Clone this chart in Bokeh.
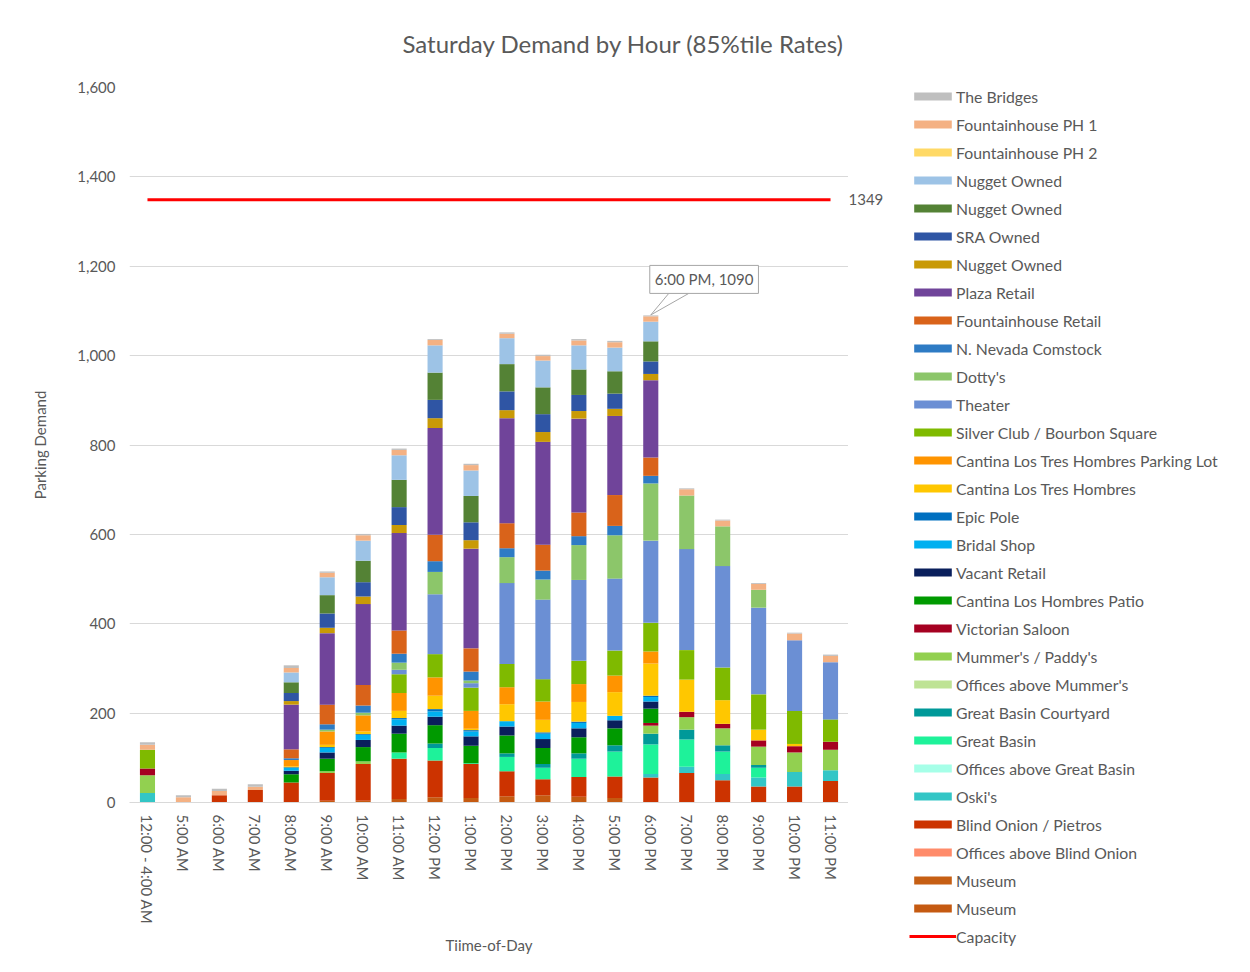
from bokeh.plotting import figure
from bokeh.layouts import row
from bokeh.models import (ColumnDataSource, FactorRange, Range1d, Legend, LegendItem,
                          NumeralTickFormatter, SingleIntervalTicker, Label)
from bokeh.embed import file_html
from bokeh.resources import INLINE
from bokeh.core.properties import value

cats = ["12:00 - 4:00 AM", "5:00 AM", "6:00 AM", "7:00 AM", "8:00 AM", "9:00 AM",
        "10:00 AM", "11:00 AM", "12:00 PM", "1:00 PM", "2:00 PM", "3:00 PM", "4:00 PM",
        "5:00 PM", "6:00 PM", "7:00 PM", "8:00 PM", "9:00 PM", "10:00 PM", "11:00 PM"]

# series listed bottom of stack -> top of stack
museum_1 = [0, 0, 0, 0, 0, 4, 4, 8, 12, 10, 14, 16, 13, 10, 0, 0, 0, 0, 0, 0]
museum_2 = [0, 0, 0, 0, 0, 0, 0, 0, 0, 0, 0, 0, 0, 0, 0, 0, 0, 0, 0, 0]
offices_blind_onion = [0, 0, 0, 0, 0, 0, 0, 0, 0, 0, 0, 0, 0, 0, 0, 0, 0, 0, 0, 0]
blind_onion = [0, 0, 16, 28, 45, 62, 82, 90, 82, 76, 56, 36, 44, 48, 56, 66, 50, 36, 36, 48]
oskis = [21, 0, 0, 0, 0, 0, 0, 0, 0, 0, 0, 0, 0, 0, 8, 14, 14, 20, 32, 24]
offices_great_basin = [0, 0, 0, 0, 0, 0, 0, 0, 0, 0, 0, 0, 0, 0, 0, 0, 0, 0, 0, 0]
great_basin = [0, 0, 0, 0, 0, 0, 0, 14, 28, 2, 32, 26, 41, 56, 66, 61, 50, 22, 0, 0]
gb_courtyard = [0, 0, 0, 0, 0, 0, 0, 0, 10, 0, 8, 8, 12, 14, 24, 22, 14, 6, 0, 0]
offices_mummers = [0, 0, 0, 0, 0, 0, 0, 0, 0, 0, 0, 0, 0, 0, 0, 0, 0, 0, 0, 0]
mummers = [40, 0, 0, 0, 0, 4, 6, 0, 0, 0, 0, 0, 0, 0, 18, 28, 38, 41, 44, 46]
victorian = [15, 0, 0, 0, 0, 0, 0, 0, 0, 0, 0, 0, 0, 0, 6, 12, 10, 14, 14, 18]
patio = [0, 0, 0, 0, 18, 28, 32, 42, 41, 39, 40, 36, 36, 38, 32, 0, 0, 0, 0, 0]
vacant = [0, 0, 0, 0, 8, 14, 16, 18, 19, 21, 20, 20, 20, 18, 16, 0, 0, 0, 0, 0]
bridal = [0, 0, 0, 0, 6, 10, 11, 14, 12, 11, 12, 12, 12, 10, 10, 0, 0, 0, 0, 0]
epic = [0, 0, 0, 0, 2, 2, 2, 3, 5, 3, 0, 3, 3, 0, 3, 0, 0, 0, 0, 0]
cantina_tres = [0, 0, 0, 0, 2, 5, 6, 16, 30, 3, 38, 28, 44, 53, 72, 72, 53, 24, 5, 0]
cantina_lot = [0, 0, 0, 0, 14, 30, 36, 40, 41, 40, 38, 41, 40, 37, 27, 0, 0, 0, 0, 0]
silver = [42, 0, 0, 0, 0, 0, 0, 42, 52, 52, 52, 50, 52, 56, 64, 66, 73, 79, 74, 50]
theater = [0, 0, 0, 0, 0, 0, 0, 10, 134, 10, 181, 178, 181, 161, 184, 226, 227, 194, 158, 128]
dottys = [0, 0, 0, 0, 0, 4, 6, 16, 50, 6, 58, 45, 78, 97, 128, 120, 89, 40, 0, 0]
nnevada = [0, 0, 0, 0, 4, 12, 16, 20, 24, 20, 20, 20, 20, 21, 17, 0, 0, 0, 0, 0]
fretail = [0, 0, 0, 0, 20, 44, 46, 52, 59, 52, 56, 58, 53, 69, 41, 0, 0, 0, 0, 0]
plaza = [0, 0, 0, 0, 100, 160, 181, 218, 239, 223, 235, 230, 210, 177, 173, 0, 0, 0, 0, 0]
nugget_gold = [0, 0, 0, 0, 8, 12, 17, 18, 22, 19, 18, 22, 17, 16, 14, 0, 0, 0, 0, 0]
sra = [0, 0, 0, 0, 18, 32, 32, 40, 41, 40, 42, 40, 36, 34, 28, 0, 0, 0, 0, 0]
nugget_green = [0, 0, 0, 0, 24, 41, 48, 61, 61, 59, 61, 60, 57, 50, 45, 0, 0, 0, 0, 0]
nugget_lb = [0, 0, 0, 0, 22, 40, 45, 55, 61, 57, 58, 60, 54, 53, 44, 0, 0, 0, 0, 0]
ph2 = [0, 0, 0, 0, 0, 0, 0, 0, 0, 0, 0, 0, 0, 0, 0, 0, 0, 0, 0, 0]
ph1 = [11, 12, 10, 7, 10, 10, 12, 12, 12, 12, 10, 10, 11, 12, 12, 14, 13, 13, 15, 14]
bridges = [6, 4, 5, 6, 6, 3, 3, 3, 2, 3, 3, 3, 3, 3, 2, 2, 2, 2, 2, 3]

capacity = 1349

series_names = ["Museum", "Museum", "Offices above Blind Onion", "Blind Onion / Pietros", "Oski's",
                "Offices above Great Basin", "Great Basin", "Great Basin Courtyard",
                "Offices above Mummer's", "Mummer's / Paddy's", "Victorian Saloon",
                "Cantina Los Hombres Patio", "Vacant Retail", "Bridal Shop", "Epic Pole",
                "Cantina Los Tres Hombres", "Cantina Los Tres Hombres Parking Lot",
                "Silver Club / Bourbon Square", "Theater", "Dotty's", "N. Nevada Comstock",
                "Fountainhouse Retail", "Plaza Retail", "Nugget Owned", "SRA Owned",
                "Nugget Owned", "Nugget Owned", "Fountainhouse PH 2", "Fountainhouse PH 1",
                "The Bridges"]
series_values = [museum_1, museum_2, offices_blind_onion, blind_onion, oskis, offices_great_basin,
                 great_basin, gb_courtyard, offices_mummers, mummers, victorian, patio, vacant,
                 bridal, epic, cantina_tres, cantina_lot, silver, theater, dottys, nnevada,
                 fretail, plaza, nugget_gold, sra, nugget_green, nugget_lb, ph2, ph1, bridges]
series_colors = ["#C55A11", "#C65F14", "#FF8B6A", "#CC3300", "#33C6C6", "#A6FFE8", "#1EF29A",
                 "#009999", "#BEE395", "#92D050", "#A50021", "#009A00", "#0A1F5C", "#00B0F0",
                 "#0070C0", "#FFC700", "#FF9400", "#7FBA00", "#6B8FD4", "#8CC66A", "#2E7BC4",
                 "#D9631A", "#70449A", "#C99A06", "#2F55A4", "#548235", "#9DC3E6", "#FFD966",
                 "#F4B183", "#BFBFBF"]

GREY = "#595959"
FONT = "Lato"

# layout constants (pixels)
TOTAL_H = 968
LEFT, TOP = 129, 87
FRAME_W, FRAME_H = 719, 715
LEG_W = 400
Y_MAX = 1600

keys = ["s%d" % i for i in range(len(series_values))]
data = {"cats": cats}
for k, v in zip(keys, series_values):
    data[k] = v
source = ColumnDataSource(data)

p = figure(x_range=FactorRange(*cats), y_range=Range1d(0, Y_MAX),
           width=LEFT + FRAME_W, height=TOTAL_H, min_border_left=LEFT, min_border_right=0,
           min_border_top=TOP, min_border_bottom=TOTAL_H - TOP - FRAME_H,
           output_backend="svg", toolbar_location=None,
           title="Saturday Demand by Hour (85%tile Rates)")
p.outline_line_color = None

bars = p.vbar_stack(keys, x="cats", width=0.42, fill_color=series_colors, line_color=None,
                    source=source)
cap_r = p.line(x=cats, y=[capacity] * len(cats), line_color="#FF0000", line_width=3)

# callout for the peak hour
totals = [sum(v[i] for v in series_values) for i in range(len(cats))]
peak = totals.index(max(totals))
px_x = len(cats) / FRAME_W      # categories per pixel
px_y = Y_MAX / FRAME_H          # units per pixel
tip_y = totals[peak]
base_y = tip_y + 22 * px_y
p.patch(x=[peak + 0.5, peak + 0.5 + 18 * px_x, peak + 0.5 + 38 * px_x],
        y=[tip_y + 1, base_y, base_y], fill_color="white", line_color="#A6A6A6", line_width=1)
callout = Label(x=peak + 0.5, y=tip_y, x_offset=-1, y_offset=22,
                text="%s, %d" % (cats[peak], totals[peak]),
                text_font=FONT, text_font_size="15px", text_color=GREY,
                text_baseline="bottom", padding=5,
                border_line_color="#A6A6A6", background_fill_color="white")
p.add_layout(callout)

# axes
p.xgrid.grid_line_color = None
p.ygrid.grid_line_color = "#D9D9D9"
p.yaxis.ticker = SingleIntervalTicker(interval=200)
p.yaxis.formatter = NumeralTickFormatter(format="0,0")
p.yaxis.axis_line_color = None
p.yaxis.major_tick_line_color = None
p.yaxis.minor_tick_line_color = None
p.yaxis.major_tick_out = 0
p.yaxis.minor_tick_out = 0
p.yaxis.major_label_standoff = 14
p.yaxis.axis_label = "Parking Demand"
p.yaxis.axis_label_standoff = 25

p.xaxis.axis_line_color = "#D9D9D9"
p.xaxis.major_tick_line_color = None
p.xaxis.major_tick_out = 0
p.xaxis.major_label_orientation = "vertical"
p.xaxis.major_label_standoff = 12
p.xaxis.axis_label = "Tiime-of-Day"
p.xaxis.axis_label_standoff = 9

for ax in (p.xaxis[0], p.yaxis[0]):
    ax.major_label_text_font = FONT
    ax.major_label_text_font_size = "15px"
    ax.major_label_text_color = GREY
    ax.axis_label_text_font = FONT
    ax.axis_label_text_font_size = "15px"
    ax.axis_label_text_font_style = "normal"
    ax.axis_label_text_color = GREY

p.title.text_font = FONT
p.title.text_font_size = "24px"
p.title.text_font_style = "normal"
p.title.text_color = GREY
p.title.align = "left"
p.title.vertical_align = "top"
p.title.offset = 273
p.title.standoff = 56

# ---- right-hand panel: capacity value label and legend ----
# its y range is aligned with the main plot's value scale over the full panel height
y_lo = -(TOTAL_H - TOP - FRAME_H) * px_y
y_hi = Y_MAX + TOP * px_y
q = figure(x_range=FactorRange(*cats), y_range=Range1d(y_lo, y_hi),
           width=LEG_W, height=TOTAL_H, min_border=0,
           x_axis_location=None, y_axis_location=None,
           output_backend="svg", toolbar_location=None)
q.outline_line_color = None
q.grid.visible = False
q.extra_y_ranges = {"offscreen": Range1d(-200000, -100000)}
for fig in (p, q):
    try:
        fig.frame_align = False
    except Exception:
        pass

q.text(x=[0], y=[capacity], text=[str(capacity)], x_offset=0,
       text_baseline="middle", text_align="left", text_font=value(FONT),
       text_font_size="15px", text_color=GREY)

# legend swatches share the plot's data source (kept out of view in this panel)
lbars = q.vbar_stack(keys, x="cats", width=0.0, fill_color=series_colors, line_color=None,
                     source=source, y_range_name="offscreen")
lcap = q.line(x=cats, y=[capacity] * len(cats), line_color="#FF0000", line_width=3,
              y_range_name="offscreen")

items = [LegendItem(label=series_names[i], renderers=[lbars[i]])
         for i in reversed(range(len(series_names)))]
items.append(LegendItem(label="Capacity", renderers=[lcap]))
legend = Legend(items=items, location=(61, 22), orientation="vertical",
                glyph_width=47, glyph_height=10, label_standoff=0, label_height=20,
                spacing=8, padding=0, margin=0, border_line_color=None,
                background_fill_alpha=0, label_text_font=FONT,
                label_text_font_size="15.8px", label_text_color=GREY)
q.add_layout(legend)

open("out.html", "w").write(file_html(row(p, q), INLINE))
